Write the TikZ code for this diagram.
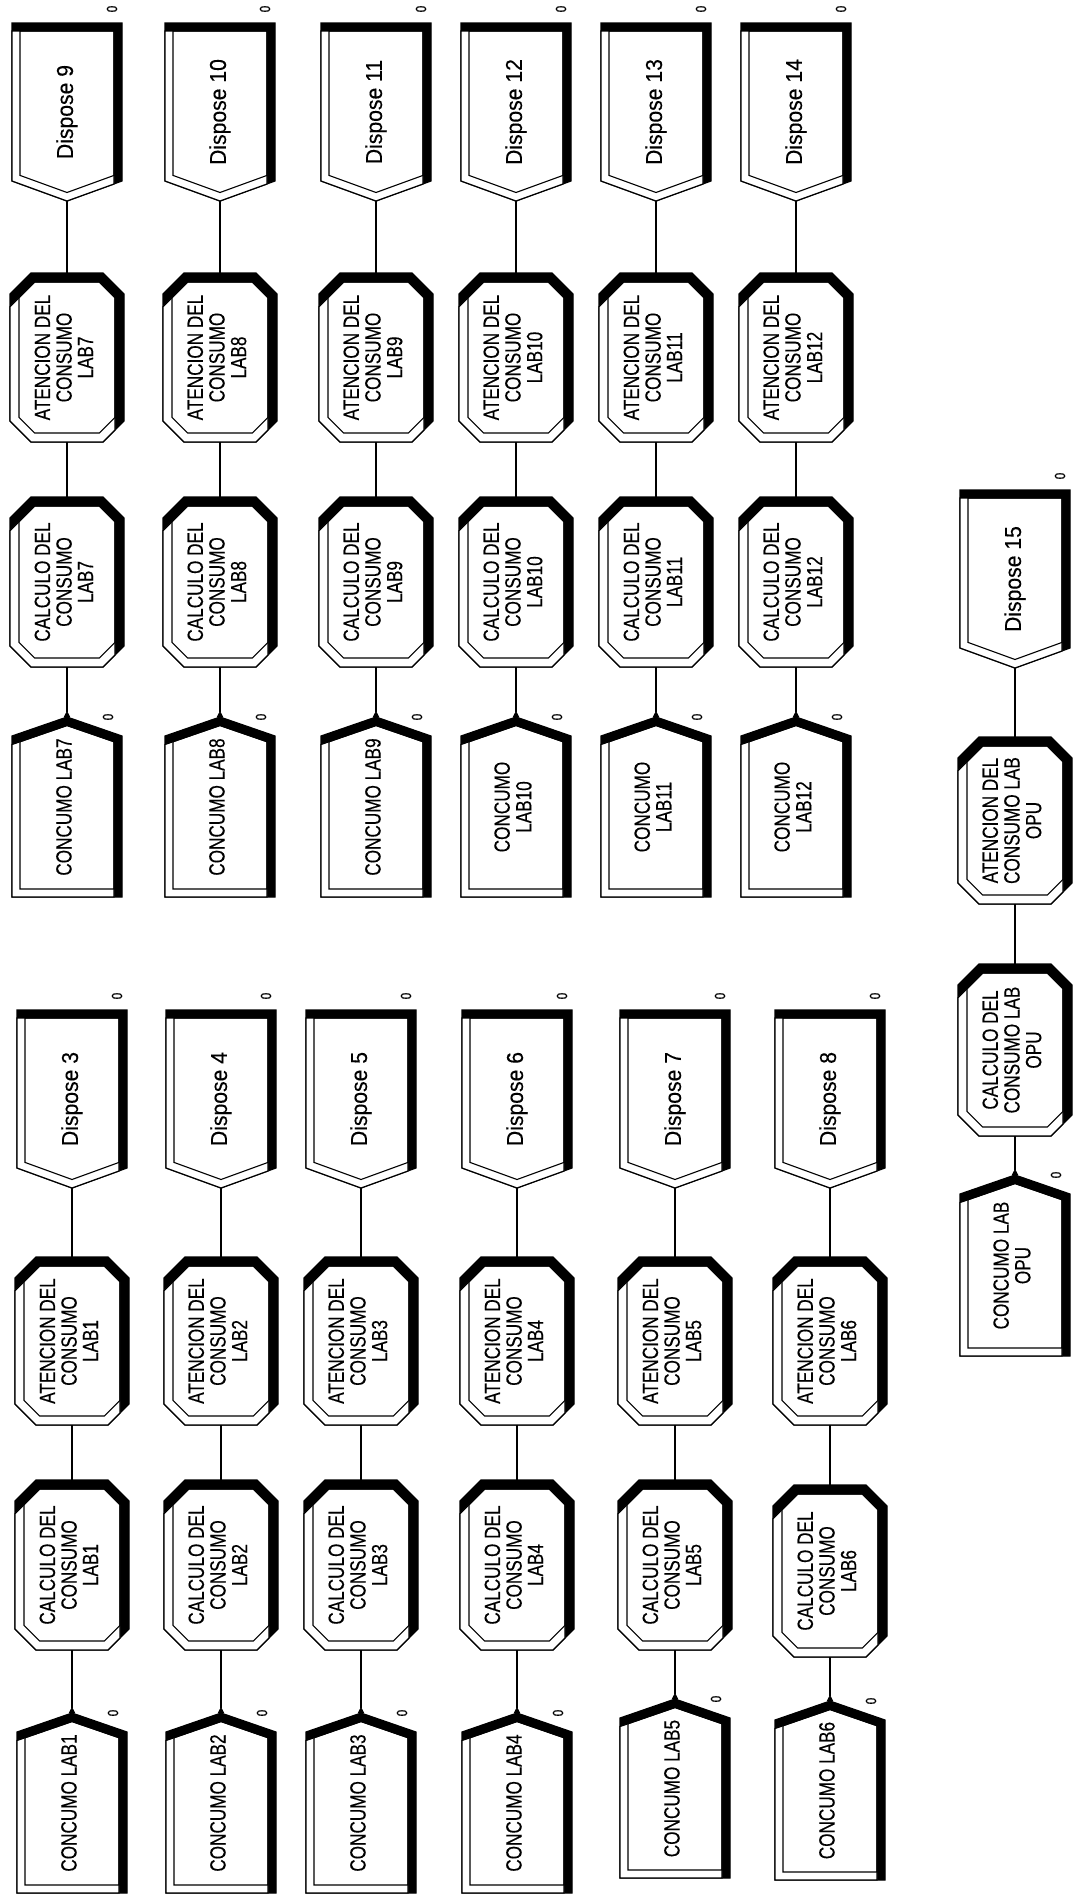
\documentclass[tikz,border=0pt]{standalone}
\usepackage{fontspec}
\usepackage{graphicx}
\usepackage{tikz}
\usetikzlibrary{arrows.meta}
\newfontfamily\modfont[FakeStretch=0.78,FakeBold=0.3]{Liberation Sans}
\newfontfamily\dispfont[FakeStretch=0.92,FakeBold=0.3]{Liberation Sans}

% create module: name, x, apex, bottom, text
\newcommand{\createmod}[5]{%
  \filldraw[band] ({#2-55},{#3+19}) -- (#2,#3) -- ({#2+55},{#3+19}) -- ({#2+55},#4) -- ({#2-55},#4) -- cycle;
  \filldraw[lit] ({#2-55},{#3+27.5}) -- (#2,{#3+8.5}) -- ({#2+47},{#3+24.7}) -- ({#2+47},#4) -- ({#2-55},#4) -- cycle;
  \draw[edge] ({#2-47},{#3+24.7}) -- (#2,{#3+8.5}) -- ({#2+47},{#3+24.7}) -- ({#2+47},{#4-8}) -- ({#2-47},{#4-8}) -- cycle;
  \node[modtext,minimum height={#4-#3}] (#1) at (#2,{(#3+#4)/2}) {\rotatebox{90}{\begin{tabular}{@{}c@{}}#5\end{tabular}}};
  \node[zero] (#1q) at ({#2+41},#3) {\rotatebox{90}{0}};
}
% process module: name, x, top, bottom, text
\newcommand{\processmod}[5]{%
  \filldraw[band] ({#2-36},#3) -- ({#2+36},#3) -- ({#2+57},{#3+21}) -- ({#2+57},{#4-21}) -- ({#2+36},#4) -- ({#2-36},#4) -- ({#2-57},{#4-21}) -- ({#2-57},{#3+21}) -- cycle;
  \filldraw[lit] ({#2-57},{#3+33.7}) -- ({#2-32.3},{#3+9}) -- ({#2+32.3},{#3+9}) -- ({#2+48},{#3+24.7}) -- ({#2+48},{#4-12}) -- ({#2+36},#4) -- ({#2-36},#4) -- ({#2-57},{#4-21}) -- cycle;
  \draw[edge] ({#2-48},{#3+24.7}) -- ({#2-32.3},{#3+9}) -- ({#2+32.3},{#3+9}) -- ({#2+48},{#3+24.7}) -- ({#2+48},{#4-24.7}) -- ({#2+32.3},{#4-9}) -- ({#2-32.3},{#4-9}) -- ({#2-48},{#4-24.7}) -- cycle;
  \node[modtext,minimum width=114pt,minimum height={#4-#3}] (#1) at (#2,{(#3+#4)/2}) {\rotatebox{90}{\begin{tabular}{@{}c@{}}#5\end{tabular}}};
}
% dispose module: name, x, top, text
\newcommand{\disposemod}[4]{%
  \filldraw[band] ({#2-55},#3) -- ({#2+55},#3) -- ({#2+55},{#3+158}) -- (#2,{#3+178}) -- ({#2-55},{#3+158}) -- cycle;
  \filldraw[lit] ({#2-55},{#3+8}) -- ({#2+47},{#3+8}) -- ({#2+47},{#3+161}) -- (#2,{#3+178}) -- ({#2-55},{#3+158}) -- cycle;
  \draw[edge] ({#2-47},{#3+8}) -- ({#2+47},{#3+8}) -- ({#2+47},{#3+152.4}) -- (#2,{#3+169.5}) -- ({#2-47},{#3+152.4}) -- cycle;
  \node[disptext,minimum height=178pt] (#1) at (#2,{#3+89}) {\rotatebox{90}{#4}};
  \node[zero] (#1q) at ({#2+45},{#3-14}) {\rotatebox{90}{0}};
}

\begin{document}
\begin{tikzpicture}[x=1pt,y=-1pt,
  band/.style={fill=black,draw=black,line width=1.2pt,line join=miter},
  lit/.style={fill=white,draw=black,line width=1.2pt},
  edge/.style={draw=black,line width=1.1pt},
  modtext/.style={inner sep=0pt,minimum width=110pt,font=\modfont\fontsize{22}{21}\selectfont},
  disptext/.style={inner sep=0pt,minimum width=110pt,font=\dispfont\fontsize{23}{23}\selectfont},
  zero/.style={inner sep=0pt,font=\modfont\fontsize{15}{15}\selectfont},
  link/.style={line width=1.1pt},
  exit/.style={link,{Triangle[reversed,length=6pt,width=6pt]}-}]
\path[use as bounding box,fill=white] (0,0) rectangle (1073,1899);

% first block
\disposemod{di1}{72}{1010}{Dispose 3}
\disposemod{di2}{221}{1010}{Dispose 4}
\disposemod{di3}{361}{1010}{Dispose 5}
\disposemod{di4}{517}{1010}{Dispose 6}
\disposemod{di5}{675}{1010}{Dispose 7}
\disposemod{di6}{830}{1010}{Dispose 8}
\processmod{at1}{72}{1257}{1425}{ATENCION DEL\\CONSUMO\\LAB1}
\processmod{at2}{221}{1257}{1425}{ATENCION DEL\\CONSUMO\\LAB2}
\processmod{at3}{361}{1257}{1425}{ATENCION DEL\\CONSUMO\\LAB3}
\processmod{at4}{517}{1257}{1425}{ATENCION DEL\\CONSUMO\\LAB4}
\processmod{at5}{675}{1257}{1425}{ATENCION DEL\\CONSUMO\\LAB5}
\processmod{at6}{830}{1257}{1425}{ATENCION DEL\\CONSUMO\\LAB6}
\processmod{ca1}{72}{1480}{1650}{CALCULO DEL\\CONSUMO\\LAB1}
\processmod{ca2}{221}{1480}{1650}{CALCULO DEL\\CONSUMO\\LAB2}
\processmod{ca3}{361}{1480}{1650}{CALCULO DEL\\CONSUMO\\LAB3}
\processmod{ca4}{517}{1480}{1650}{CALCULO DEL\\CONSUMO\\LAB4}
\processmod{ca5}{675}{1480}{1650}{CALCULO DEL\\CONSUMO\\LAB5}
\processmod{ca6}{830}{1485}{1657}{CALCULO DEL\\CONSUMO\\LAB6}
\createmod{cr1}{72}{1713}{1893}{CONCUMO LAB1}
\createmod{cr2}{221}{1713}{1893}{CONCUMO LAB2}
\createmod{cr3}{361}{1713}{1893}{CONCUMO LAB3}
\createmod{cr4}{517}{1713}{1893}{CONCUMO LAB4}
\createmod{cr5}{675}{1699}{1878}{CONCUMO LAB5}
\createmod{cr6}{830}{1701}{1880}{CONCUMO LAB6}

% second block
\disposemod{di7}{67}{23}{Dispose 9}
\disposemod{di8}{220}{23}{Dispose 10}
\disposemod{di9}{376}{23}{Dispose 11}
\disposemod{di10}{516}{23}{Dispose 12}
\disposemod{di11}{656}{23}{Dispose 13}
\disposemod{di12}{796}{23}{Dispose 14}
\processmod{at7}{67}{273}{442}{ATENCION DEL\\CONSUMO\\LAB7}
\processmod{at8}{220}{273}{442}{ATENCION DEL\\CONSUMO\\LAB8}
\processmod{at9}{376}{273}{442}{ATENCION DEL\\CONSUMO\\LAB9}
\processmod{at10}{516}{273}{442}{ATENCION DEL\\CONSUMO\\LAB10}
\processmod{at11}{656}{273}{442}{ATENCION DEL\\CONSUMO\\LAB11}
\processmod{at12}{796}{273}{442}{ATENCION DEL\\CONSUMO\\LAB12}
\processmod{ca7}{67}{497}{667}{CALCULO DEL\\CONSUMO\\LAB7}
\processmod{ca8}{220}{497}{667}{CALCULO DEL\\CONSUMO\\LAB8}
\processmod{ca9}{376}{497}{667}{CALCULO DEL\\CONSUMO\\LAB9}
\processmod{ca10}{516}{497}{667}{CALCULO DEL\\CONSUMO\\LAB10}
\processmod{ca11}{656}{497}{667}{CALCULO DEL\\CONSUMO\\LAB11}
\processmod{ca12}{796}{497}{667}{CALCULO DEL\\CONSUMO\\LAB12}
\createmod{cr7}{67}{717}{897}{CONCUMO LAB7}
\createmod{cr8}{220}{717}{897}{CONCUMO LAB8}
\createmod{cr9}{376}{717}{897}{CONCUMO LAB9}
\createmod{cr10}{516}{717}{897}{CONCUMO\\LAB10}
\createmod{cr11}{656}{717}{897}{CONCUMO\\LAB11}
\createmod{cr12}{796}{717}{897}{CONCUMO\\LAB12}

% OPU
\disposemod{diopu}{1015}{490}{Dispose 15}
\processmod{atopu}{1015}{737}{904}{ATENCION DEL\\CONSUMO LAB\\OPU}
\processmod{caopu}{1015}{964}{1136}{CALCULO DEL\\CONSUMO LAB\\OPU}
\createmod{cropu}{1015}{1175}{1356}{CONCUMO LAB\\OPU}

% connectors
\foreach \i in {1,...,12,opu} {
  \draw[exit] (cr\i.north) -- (ca\i.south);
  \draw[link] (ca\i.north) -- (at\i.south);
  \draw[link] (at\i.north) -- (di\i.south);
}
\end{tikzpicture}
\end{document}
